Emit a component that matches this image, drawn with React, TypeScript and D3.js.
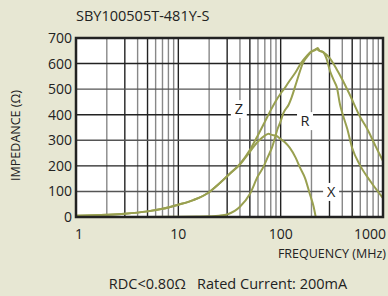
import React from "react";
import * as d3 from "d3";

const title = "SBY100505T-481Y-S";
const yTicks = [0, 100, 200, 300, 400, 500, 600, 700];
const xTickLabels = ["1", "10", "100", "1000"];
const xTickValues = [1, 10, 100, 1000];

const zFreq = [1, 2, 3, 5, 7, 10, 14, 20, 25, 32, 40, 50, 60, 70, 80, 90, 100, 110, 120, 140, 160, 180, 200, 215, 230, 240, 260, 300, 350, 400, 475, 600, 700, 850, 1000];
const zVal = [5, 9, 13, 22, 32, 48, 66, 97, 130, 170, 208, 262, 320, 372, 418, 455, 483, 505, 528, 566, 605, 630, 648, 652, 661, 650, 645, 622, 580, 538, 477, 390, 345, 275, 219];

const rFreq = [1, 5, 10, 15, 20, 25, 30, 40, 50, 60, 67, 75, 82, 94, 100, 106, 120, 128, 144, 165, 180, 194, 210, 225, 240, 260, 280, 304, 330, 355, 380, 405, 445, 500, 595, 750, 1000];
const rVal = [0, 0, 1, 2, 3, 5, 10, 40, 90, 160, 192, 235, 270, 348, 375, 405, 440, 468, 532, 602, 625, 641, 652, 656, 650, 645, 620, 570, 535, 505, 440, 400, 348, 270, 203, 141, 74];

const xFreq = [1, 2, 3, 5, 7, 10, 14, 20, 25, 32, 40, 50, 60, 70, 76, 80, 90, 100, 110, 123, 140, 155, 173, 194, 210, 220];
const xVal = [5, 9, 13, 22, 32, 48, 66, 97, 130, 170, 205, 255, 295, 318, 326, 322, 318, 305, 292, 270, 232, 192, 152, 86, 40, 0];

const curveLabels = [
  { name: "Z", f: 39, v: 422 },
  { name: "R", f: 173, v: 375 },
  { name: "X", f: 311, v: 98 },
];

const W = 388;
const H = 296;
const left = 76;
const right = 383;
const top = 38;
const bottom = 217;
const bg = "#E7E7D3";
const curveColor = "#99A050";
const font = "'Open Sans', sans-serif";

export default function App() {
  const x = d3.scaleLog().domain([1, 1000]).range([left, right]);
  const y = d3.scaleLinear().domain([0, 700]).range([bottom, top]);

  const gridX: { v: number; dark: boolean }[] = [];
  for (const dec of [1, 10, 100]) {
    for (let m = 2; m <= 9; m++) {
      gridX.push({ v: dec * m, dark: m === 3 || m === 5 });
    }
    if (dec > 1) gridX.push({ v: dec, dark: true });
  }
  const gridY = [100, 200, 300, 400, 500, 600];

  const line = d3
    .line<[number, number]>()
    .x((d) => x(d[0]))
    .y((d) => y(d[1]))
    .curve(d3.curveMonotoneX);

  const series = [
    { f: zFreq, v: zVal },
    { f: rFreq, v: rVal },
    { f: xFreq, v: xVal },
  ];

  return (
    <svg width={W} height={H} style={{ position: "absolute", left: 0, top: 0 }} fontFamily={font}>
      <rect x={0} y={0} width={W} height={H} fill={bg} />
      <text x={left} y={21} fontSize={14.5} fill="#222">{title}</text>
      <defs>
        <clipPath id="plotClip">
          <rect x={left} y={top} width={right - left} height={bottom - top} />
        </clipPath>
      </defs>
      <rect x={left} y={top} width={right - left} height={bottom - top} fill="#fff" />
      {gridX.map((g, i) => (
        <line key={"gx" + i} x1={x(g.v)} x2={x(g.v)} y1={top} y2={bottom} stroke={g.dark ? "#222" : "#888"} strokeWidth={1.4} />
      ))}
      {gridY.map((v, i) => (
        <line key={"gy" + i} x1={left} x2={right} y1={y(v)} y2={y(v)} stroke={v % 200 === 0 ? "#222" : "#555"} strokeWidth={1.4} />
      ))}
      {curveLabels.map((l) => (
        <g key={l.name}>
          <rect x={x(l.f) - 8} y={y(l.v) - 9} width={16} height={18} fill="#fff" />
          <text x={x(l.f)} y={y(l.v)} dy="0.36em" textAnchor="middle" fontSize={14.5} fill="#222">{l.name}</text>
        </g>
      ))}
      <g clipPath="url(#plotClip)">
        {series.map((s, i) => (
          <path
            key={"s" + i}
            d={line(s.f.map((f, j) => [f, s.v[j]] as [number, number])) || ""}
            fill="none"
            stroke={curveColor}
            strokeWidth={2}
          />
        ))}
      </g>
      <rect x={left} y={top} width={right - left} height={bottom - top} fill="none" stroke="#222" strokeWidth={2.5} />
      {yTicks.map((v) => (
        <text key={"yt" + v} x={72} y={y(v)} dy="0.36em" textAnchor="end" fontSize={14} fill="#222">{v}</text>
      ))}
      {xTickValues.map((v, i) => (
        <text
          key={"xt" + v}
          x={i === 0 ? x(v) - 1 : i === xTickValues.length - 1 ? 386 : x(v)}
          y={239}
          textAnchor={i === 0 ? "start" : i === xTickValues.length - 1 ? "end" : "middle"}
          fontSize={14}
          fill="#222"
        >
          {xTickLabels[i]}
        </text>
      ))}
      <text x={386} y={258} textAnchor="end" fontSize={12.5} fill="#222">FREQUENCY (MHz)</text>
      <text transform={`translate(20,${(top + bottom) / 2 + 8}) rotate(-90)`} textAnchor="middle" fontSize={12.5} fill="#222">IMPEDANCE (Ω)</text>
      <text x={228} y={289} textAnchor="middle" fontSize={14.5} fill="#222" xmlSpace="preserve">{"RDC<0.80Ω   Rated Current: 200mA"}</text>
    </svg>
  );
}
